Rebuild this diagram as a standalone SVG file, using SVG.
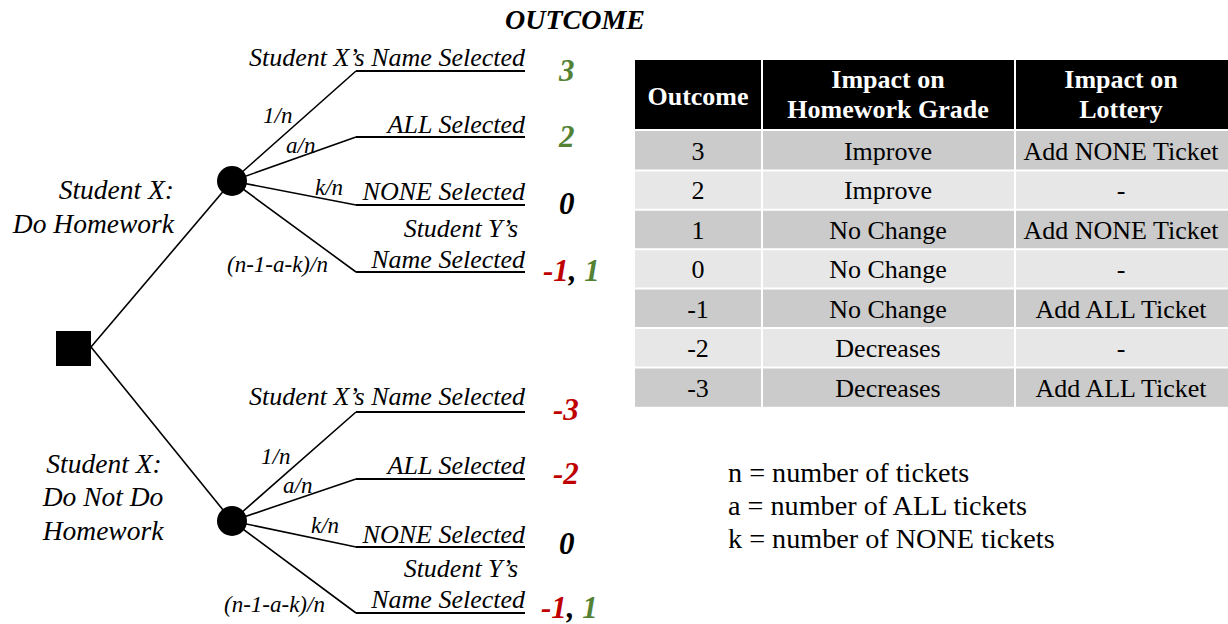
<svg xmlns="http://www.w3.org/2000/svg" width="1228" height="624" viewBox="0 0 1228 624">
<style>
.ln{stroke:#000;stroke-width:1.6;fill:none}
.hl{stroke:#000;stroke-width:2;fill:none}
.br{font-family:"Liberation Serif","Times New Roman",serif;font-style:italic;font-size:26px;fill:#000}
.lt{font-family:"Liberation Serif","Times New Roman",serif;font-style:italic;font-size:27.5px;fill:#000}
.pr{font-family:"Liberation Serif","Times New Roman",serif;font-style:italic;font-size:23px;fill:#000}
.oc{font-family:"Liberation Serif","Times New Roman",serif;font-style:italic;font-weight:bold;font-size:31px}
.tt{font-family:"Liberation Serif","Times New Roman",serif;font-style:italic;font-weight:bold;font-size:28px;fill:#000;text-anchor:middle}
.g{fill:#548235}.r{fill:#c00000}.k{fill:#000}
.th{font-family:"Liberation Serif","Times New Roman",serif;font-weight:bold;font-size:26px;fill:#fff;text-anchor:middle}
.td{font-family:"Liberation Serif","Times New Roman",serif;font-size:26px;fill:#000;text-anchor:middle}
.lg{font-family:"Liberation Serif","Times New Roman",serif;font-size:28.2px;fill:#000}
.e{text-anchor:end}.m{text-anchor:middle}
</style>
<rect width="1228" height="624" fill="#fff"/>
<text class="tt" x="575" y="29">OUTCOME</text>

<g id="connectors">
  <path class="ln" d="M91,347 L232,181"/>
  <path class="ln" d="M91,347 L232,521"/>
  <path class="ln" d="M232,181 L356,71 M232,181 L356,137 M232,181 L356,205 M232,181 L356,272"/>
  <path class="hl" d="M356,71 H525 M356,137 H525 M356,205 H525 M356,272 H525"/>
  <path class="ln" d="M232,521 L356,412 M232,521 L356,479 M232,521 L356,547 M232,521 L356,613"/>
  <path class="hl" d="M356,412 H525 M356,479 H525 M356,547 H525 M356,613 H525"/>
</g>

<g id="decision">
  <rect x="56" y="331" width="35" height="35" fill="#000"/>
</g>

<g id="chance-homework">
  <circle cx="232" cy="181" r="15" fill="#000"/>
  <text class="lt e" x="174" y="199">Student X:</text>
  <text class="lt e" x="174" y="233">Do Homework</text>
</g>

<g id="chance-nohomework">
  <circle cx="232" cy="521" r="15" fill="#000"/>
  <text class="lt m" x="104" y="473">Student X:</text>
  <text class="lt m" x="103" y="506">Do Not Do</text>
  <text class="lt m" x="103" y="540">Homework</text>
</g>

<g id="upper-branches">
  <text class="br e" x="525" y="66">Student X’s Name Selected</text>
  <text class="pr" x="263" y="123">1/n</text>
  <text class="br e" x="525" y="133">ALL Selected</text>
  <text class="pr" x="286" y="153">a/n</text>
  <text class="pr" x="315" y="195">k/n</text>
  <text class="br e" x="525" y="200">NONE Selected</text>
  <text class="br e" x="518" y="237">Student Y’s</text>
  <text class="br e" x="525" y="268">Name Selected</text>
  <text class="pr" x="227" y="272">(n-1-a-k)/n</text>
  <text class="oc g" x="559" y="81">3</text>
  <text class="oc g" x="559" y="147">2</text>
  <text class="oc k" x="559" y="214">0</text>
  <text class="oc" x="543" y="281"><tspan class="r">-1</tspan><tspan class="k">, </tspan><tspan class="g">1</tspan></text>
</g>

<g id="lower-branches">
  <text class="br e" x="525" y="405">Student X’s Name Selected</text>
  <text class="pr" x="261" y="464">1/n</text>
  <text class="br e" x="525" y="474">ALL Selected</text>
  <text class="pr" x="283" y="493">a/n</text>
  <text class="pr" x="311" y="533">k/n</text>
  <text class="br e" x="525" y="543">NONE Selected</text>
  <text class="br e" x="518" y="577">Student Y’s</text>
  <text class="br e" x="525" y="608">Name Selected</text>
  <text class="pr" x="224" y="612">(n-1-a-k)/n</text>
  <text class="oc r" x="553" y="420">-3</text>
  <text class="oc r" x="553" y="484">-2</text>
  <text class="oc k" x="559" y="554">0</text>
  <text class="oc" x="541" y="618"><tspan class="r">-1</tspan><tspan class="k">, </tspan><tspan class="g">1</tspan></text>
</g>

<g id="table">
  <rect x="635" y="60" width="593" height="69" fill="#000"/>
  <rect x="635" y="131" width="593" height="39.4" fill="#cbcbcb"/>
  <rect x="635" y="170.4" width="593" height="39.4" fill="#e7e7e7"/>
  <rect x="635" y="209.8" width="593" height="39.4" fill="#cbcbcb"/>
  <rect x="635" y="249.2" width="593" height="39.4" fill="#e7e7e7"/>
  <rect x="635" y="288.6" width="593" height="39.4" fill="#cbcbcb"/>
  <rect x="635" y="328" width="593" height="39.4" fill="#e7e7e7"/>
  <rect x="635" y="367.4" width="593" height="39.4" fill="#cbcbcb"/>
  <path d="M635,130 H1228 M635,170.4 H1228 M635,209.8 H1228 M635,249.2 H1228 M635,288.6 H1228 M635,328 H1228 M635,367.4 H1228 M762,60 V407 M1015,60 V407" stroke="#fff" stroke-width="2" fill="none"/>
  <text class="th" x="698" y="105">Outcome</text>
  <text class="th" x="888" y="88">Impact on</text>
  <text class="th" x="888" y="118">Homework Grade</text>
  <text class="th" x="1121" y="88">Impact on</text>
  <text class="th" x="1121" y="118">Lottery</text>
  <text class="td" x="698" y="160">3</text><text class="td" x="888" y="160">Improve</text><text class="td" x="1121" y="160">Add NONE Ticket</text>
  <text class="td" x="698" y="199">2</text><text class="td" x="888" y="199">Improve</text><text class="td" x="1121" y="199">-</text>
  <text class="td" x="698" y="239">1</text><text class="td" x="888" y="239">No Change</text><text class="td" x="1121" y="239">Add NONE Ticket</text>
  <text class="td" x="698" y="278">0</text><text class="td" x="888" y="278">No Change</text><text class="td" x="1121" y="278">-</text>
  <text class="td" x="698" y="318">-1</text><text class="td" x="888" y="318">No Change</text><text class="td" x="1121" y="318">Add ALL Ticket</text>
  <text class="td" x="698" y="357">-2</text><text class="td" x="888" y="357">Decreases</text><text class="td" x="1121" y="357">-</text>
  <text class="td" x="698" y="397">-3</text><text class="td" x="888" y="397">Decreases</text><text class="td" x="1121" y="397">Add ALL Ticket</text>
</g>

<g id="legend">
  <text class="lg" x="728" y="482">n = number of tickets</text>
  <text class="lg" x="728" y="515">a = number of ALL tickets</text>
  <text class="lg" x="728" y="548">k = number of NONE tickets</text>
</g>
</svg>
